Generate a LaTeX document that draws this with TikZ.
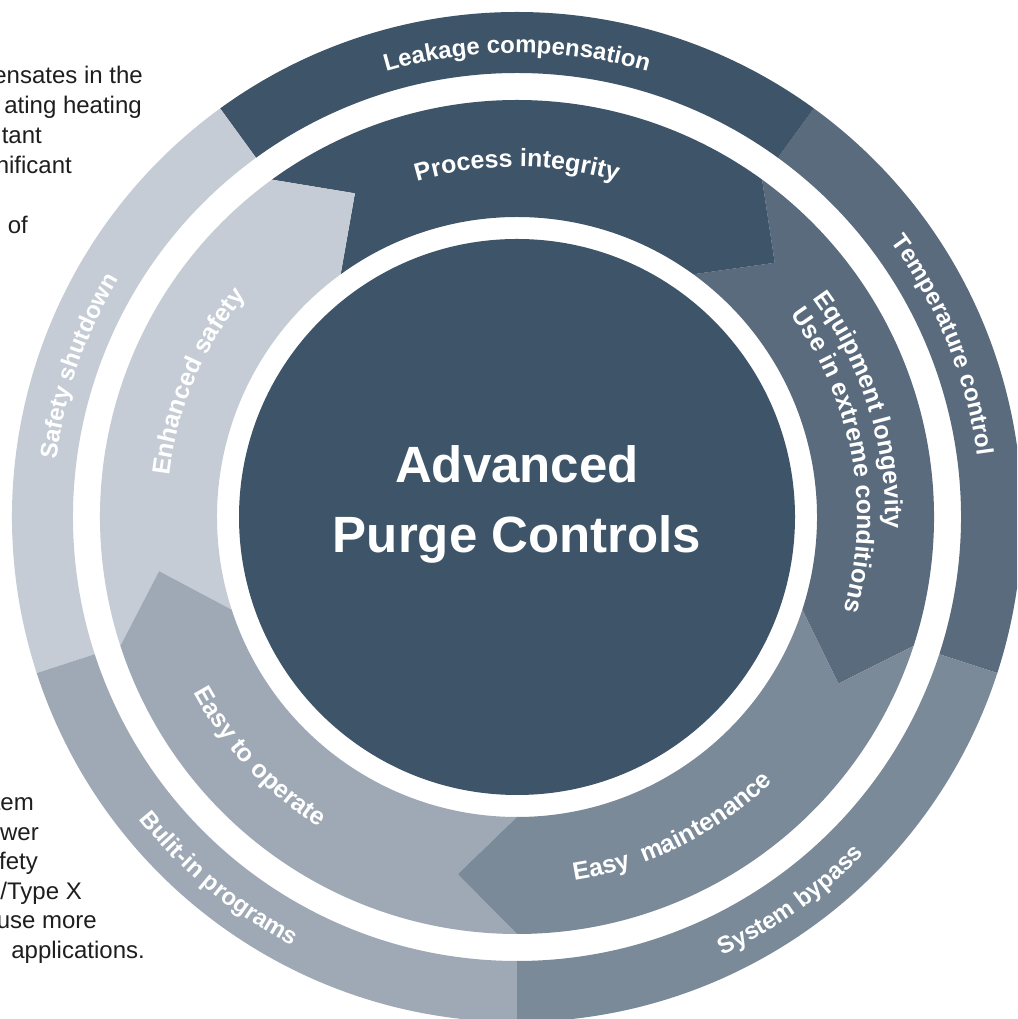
\documentclass[tikz,border=0pt]{standalone}
\usepackage{fontspec}
\setmainfont{Liberation Sans}
\usetikzlibrary{decorations.text,calc}
\definecolor{cA}{HTML}{3E5468}
\definecolor{cB}{HTML}{5A6B7D}
\definecolor{cC}{HTML}{7A8A99}
\definecolor{cD}{HTML}{9FA9B5}
\definecolor{cE}{HTML}{C5CCD5}
\definecolor{bodycol}{HTML}{1E1E1E}
\newcommand{\outfont}{\bfseries\fontsize{24}{28}\selectfont\color{white}}
\newcommand{\infont}{\bfseries\fontsize{25}{29}\selectfont\color{white}}
\tikzset{
  bodytxt/.style={anchor=base east, inner sep=0pt, text=bodycol, font=\fontsize{24}{30}\selectfont},
  titletxt/.style={anchor=base, inner sep=0pt, text=white, font=\bfseries\fontsize{51}{60}\selectfont},
  arclabel/.style={decorate, decoration={text along path, text align=center, text={#1}}},
  arclabelleft/.style={decorate, decoration={text along path, text={#1}}}
}
\begin{document}
\begin{tikzpicture}[x=1pt,y=1pt]
\useasboundingbox (0,0) rectangle (1017,1019);
\clip (0,0) rectangle (1017,1019);
\fill[white] (0,0) rectangle (1017,1019);
\coordinate (C) at (517,502);
% outer ring
\foreach \a/\col in {-18/cB, 54/cA, 126/cE, 198/cD, 270/cC} {
  \pgfmathsetmacro{\bb}{\a+72}
  \fill[\col] ($(C)+(\a:505pt)$) arc[start angle=\a, end angle=\bb, radius=505pt]
    -- ($(C)+(\bb:444pt)$) arc[start angle=\bb, end angle=\a, radius=444pt] -- cycle;
}
% inner ring chevrons
\foreach \a/\col in {-18/cB, 54/cA, 126/cE, 198/cD, 270/cC} {
  \pgfmathsetmacro{\bb}{\a+72}
  \pgfmathsetmacro{\nn}{\a+72-9.4}
  \pgfmathsetmacro{\tp}{\a-9.4}
  \fill[\col] ($(C)+(\a:417pt)$) arc[start angle=\a, end angle=\bb, radius=417pt]
    -- ($(C)+(\nn:362pt)$) -- ($(C)+(\bb:300pt)$)
    arc[start angle=\bb, end angle=\a, radius=300pt]
    -- ($(C)+(\tp:362pt)$) -- cycle;
}
% centre disc
\fill[cA] (C) circle[radius=278pt];
\node[titletxt] (t1) at (517,536) {Advanced};
\node[titletxt] (t2) at (517,466) {Purge Controls};
% outer ring labels
\path[arclabel={|\outfont|Leakage compensation}] ($(C)+(160:464pt)$) arc[start angle=160, end angle=20, radius=464pt];
\path[arclabel={|\outfont|Temperature control}] ($(C)+(92:464pt)$) arc[start angle=92, end angle=-48, radius=464pt];
\path[arclabel={|\outfont|Safety shutdown}] ($(C)+(231:464pt)$) arc[start angle=231, end angle=91, radius=464pt];
\path[arclabel={|\outfont|Bulit-in programs}] ($(C)+(160.5:484pt)$) arc[start angle=160.5, end angle=300.5, radius=484pt];
\path[arclabel={|\outfont|System bypass}] ($(C)+(235.5:484pt)$) arc[start angle=235.5, end angle=375.5, radius=484pt];
% inner ring labels
\path[arclabel={|\infont|Process integrity}] ($(C)+(160:350pt)$) arc[start angle=160, end angle=20, radius=350pt];
\path[arclabel={|\infont|Enhanced safety}] ($(C)+(227:350pt)$) arc[start angle=227, end angle=87, radius=350pt];
\path[arclabel={|\infont|Easy to operate}] ($(C)+(153:368pt)$) arc[start angle=153, end angle=293, radius=368pt];
\path[arclabel={|\infont|Easy {\ }maintenance}] ($(C)+(226.5:368pt)$) arc[start angle=226.5, end angle=366.5, radius=368pt];
\path[arclabelleft={|\infont|Equipment longevity}] ($(C)+(36.5:368pt)$) arc[start angle=36.5, end angle=-80, radius=368pt];
\path[arclabelleft={|\infont|Use in extreme conditions}] ($(C)+(36.5:340pt)$) arc[start angle=36.5, end angle=-80, radius=340pt];
% cropped body text, top left
\node[bodytxt] (p1) at (143,935) {ensates in the};
\node[bodytxt] (p2) at (142,905) {ating heating};
\node[bodytxt] (p3) at (42,875) {tant};
\node[bodytxt] (p4) at (72,845) {nificant};
\node[bodytxt] (p5) at (28,785) {of};
% cropped body text, bottom left
\node[bodytxt] (q1) at (34,208) {tem};
\node[bodytxt] (q2) at (39,178) {wer};
\node[bodytxt] (q3) at (38,149) {fety};
\node[bodytxt] (q4) at (82,119) {/Type X};
\node[bodytxt] (q5) at (97,90) {use more};
\node[bodytxt] (q6) at (145,60) {applications.};
\end{tikzpicture}
\end{document}
